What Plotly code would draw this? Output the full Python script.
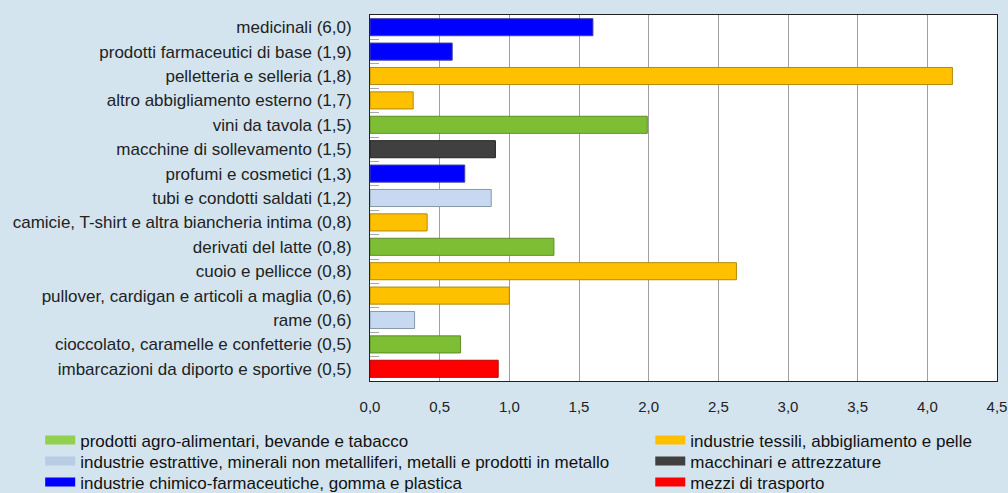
import plotly.graph_objects as go

categories = [
    "medicinali (6,0)",
    "prodotti farmaceutici di base (1,9)",
    "pelletteria e selleria (1,8)",
    "altro abbigliamento esterno (1,7)",
    "vini da tavola (1,5)",
    "macchine di sollevamento (1,5)",
    "profumi e cosmetici (1,3)",
    "tubi e condotti saldati (1,2)",
    "camicie, T-shirt e altra biancheria intima (0,8)",
    "derivati del latte (0,8)",
    "cuoio e pellicce (0,8)",
    "pullover, cardigan e articoli a maglia (0,6)",
    "rame (0,6)",
    "cioccolato, caramelle e confetterie (0,5)",
    "imbarcazioni da diporto e sportive (0,5)",
]
values = [1.60, 0.59, 4.18, 0.31, 1.99, 0.90, 0.68, 0.87, 0.41, 1.32, 2.63, 1.00, 0.32, 0.65, 0.92]
sector_of = ["chim", "chim", "tess", "tess", "agro", "macc", "chim", "estr",
             "tess", "agro", "tess", "tess", "estr", "agro", "mezzi"]

sectors = ["agro", "estr", "chim", "tess", "macc", "mezzi"]
sector_names = {
    "agro": "prodotti agro-alimentari, bevande e tabacco",
    "tess": "industrie tessili, abbigliamento e pelle",
    "estr": "industrie estrattive, minerali non metalliferi, metalli e prodotti in metallo",
    "macc": "macchinari e attrezzature",
    "chim": "industrie chimico-farmaceutiche, gomma e plastica",
    "mezzi": "mezzi di trasporto",
}
# legend slot: (column, row)
legend_slot = {"agro": (0, 0), "estr": (0, 1), "chim": (0, 2),
               "tess": (1, 0), "macc": (1, 1), "mezzi": (1, 2)}
bar_colors = {"agro": "#7DBE35", "tess": "#FFC000", "estr": "#C6D9F1",
              "macc": "#404040", "chim": "#0000FF", "mezzi": "#FF0000"}
legend_colors = {"agro": "#92D050", "tess": "#FFC000", "estr": "#B8CCE4",
                 "macc": "#404040", "chim": "#0000FF", "mezzi": "#FF0000"}
edge_colors = {"agro": "#5E8C28", "tess": "#B08A10", "estr": "#8896A8",
               "macc": "#222222", "chim": "#4040A0", "mezzi": "#C00000"}

tick_vals = [0, 0.5, 1, 1.5, 2, 2.5, 3, 3.5, 4, 4.5]
tick_text = ["0,0", "0,5", "1,0", "1,5", "2,0", "2,5", "3,0", "3,5", "4,0", "4,5"]

fig = go.Figure()
for s in sectors:
    ys = [c for c, sec in zip(categories, sector_of) if sec == s]
    xs = [v for v, sec in zip(values, sector_of) if sec == s]
    fig.add_trace(go.Bar(
        x=xs, y=ys, orientation="h", showlegend=False,
        marker=dict(color=bar_colors[s], line=dict(color=edge_colors[s], width=1)),
        width=0.7,
    ))

legend_font = dict(family="Liberation Sans, Arial, sans-serif", size=17, color="#111111")
col_x = [-0.526, 0.447]
row_y = [-0.1133, -0.1707, -0.2281]
legend_layouts = {}
for i, s in enumerate(sectors):
    key = "legend" if i == 0 else f"legend{i + 1}"
    col, row = legend_slot[s]
    fig.add_trace(go.Scatter(
        x=[None], y=[None], mode="lines", name=sector_names[s],
        line=dict(color=legend_colors[s], width=9),
        legend=key, showlegend=True,
    ))
    legend_layouts[key] = dict(
        orientation="v", x=col_x[col], xanchor="left", y=row_y[row], yanchor="top",
        font=legend_font, bgcolor="rgba(0,0,0,0)", itemwidth=30,
    )

fig.update_layout(
    width=1008, height=493,
    paper_bgcolor="#D3E4EE",
    plot_bgcolor="#FFFFFF",
    margin=dict(l=370, r=11, t=15, b=112, autoexpand=False),
    barmode="overlay",
    font=dict(family="Liberation Sans, Arial, sans-serif", color="#222222"),
    xaxis=dict(
        range=[0, 4.5], tickvals=tick_vals, ticktext=tick_text,
        showgrid=True, gridcolor="#A0A0A0", gridwidth=1,
        showline=True, linecolor="#222222", linewidth=1, mirror=True,
        ticks="", tickfont=dict(size=15), ticklabelstandoff=12,
        zeroline=False, fixedrange=True, automargin=False,
    ),
    yaxis=dict(
        categoryorder="array", categoryarray=categories, autorange="reversed",
        showline=True, linecolor="#222222", linewidth=1, mirror=True,
        ticks="inside", tickson="boundaries", ticklen=9, tickcolor="#A8A8A8",
        tickfont=dict(size=17), ticklabelstandoff=14,
        showgrid=False, fixedrange=True, automargin=False,
    ),
    **legend_layouts,
)

fig.write_html("out.html", config={"displayModeBar": False},
               post_script="document.body.style.margin='0';")
